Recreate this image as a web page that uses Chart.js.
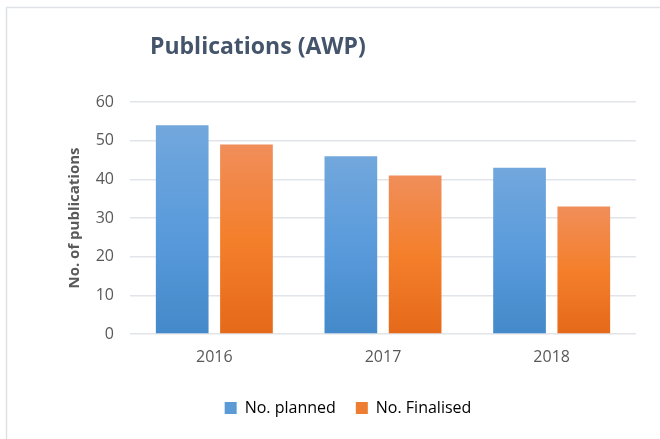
<!DOCTYPE html>
<html>
<head>
<meta charset="utf-8">
<script src="https://cdn.jsdelivr.net/npm/chart.js@4"></script>
<style>
html,body{margin:0;padding:0;background:#fff;}
#wrap{width:660px;height:439px;position:relative;}
</style>
</head>
<body>
<div id="wrap"><canvas id="c" width="660" height="439"></canvas></div>
<script>
const categories = ['2016', '2017', '2018'];
const plannedValues = [54, 46, 43];
const finalisedValues = [49, 41, 33];
const seriesNames = ['No. planned', 'No. Finalised'];
const chartTitle = 'Publications (AWP)';
const yAxisTitle = 'No. of publications';

const FONT = '"Open Sans", Lato, sans-serif';

function barGradient(ctx, stops) {
  const chart = ctx.chart;
  const area = chart.chartArea;
  if (!area || ctx.type !== 'data') return stops[1];
  const y = chart.scales.y;
  const top = y.getPixelForValue(ctx.raw);
  const bottom = y.getPixelForValue(0);
  if (!isFinite(top) || bottom - top < 1) return stops[1];
  const g = chart.ctx.createLinearGradient(0, top, 0, bottom);
  g.addColorStop(0, stops[0]);
  g.addColorStop(0.5, stops[1]);
  g.addColorStop(1, stops[2]);
  return g;
}
const blueStops = ['#72A7DC', '#5A9BDC', '#4489C9'];
const orangeStops = ['#F08E5A', '#F47F2B', '#E5691A'];

const framePlugin = {
  id: 'frame',
  beforeDraw(chart) {
    const c = chart.ctx;
    c.save();
    c.fillStyle = '#fff';
    c.fillRect(0, 0, chart.width, chart.height);
    c.strokeStyle = '#DEE2E7';
    c.lineWidth = 1.5;
    c.beginPath();
    c.moveTo(6.5, chart.height);
    c.lineTo(6.5, 7.5);
    c.lineTo(chart.width, 7.5);
    c.stroke();
    c.restore();
  }
};
const titlePlugin = {
  id: 'customTitle',
  afterDraw(chart) {
    const c = chart.ctx;
    c.save();
    c.font = 'bold 23px ' + FONT;
    c.fillStyle = '#44546A';
    c.textBaseline = 'middle';
    c.textAlign = 'left';
    c.fillText(chartTitle, 150, 47);
    c.restore();
  }
};

new Chart(document.getElementById('c'), {
  type: 'bar',
  data: {
    labels: categories,
    datasets: [
      { label: seriesNames[0], data: plannedValues,
        backgroundColor: ctx => barGradient(ctx, blueStops) },
      { label: seriesNames[1], data: finalisedValues,
        backgroundColor: ctx => barGradient(ctx, orangeStops) }
    ]
  },
  options: {
    responsive: false,
    animation: false,
    devicePixelRatio: 1,
    categoryPercentage: 0.762,
    barPercentage: 0.82,
    layout: { padding: { left: 60, right: 24, top: 102, bottom: 13 } },
    plugins: {
      title: { display: false },
      tooltip: { enabled: false },
      legend: {
        position: 'bottom',
        labels: {
          font: { family: FONT, size: 16 },
          color: '#595959',
          boxWidth: 12,
          boxHeight: 12,
          padding: 20,
          generateLabels(chart) {
            return chart.data.datasets.map((d, i) => ({
              text: d.label,
              fillStyle: i === 0 ? '#5B9BD5' : '#ED7D31',
              strokeStyle: i === 0 ? '#5B9BD5' : '#ED7D31',
              lineWidth: 0,
              datasetIndex: i
            }));
          }
        }
      }
    },
    scales: {
      x: {
        grid: { display: false },
        border: { display: false },
        ticks: { font: { family: FONT, size: 16 }, color: '#595959', padding: 6 },
        afterFit(scale) { scale.height = 46; }
      },
      y: {
        min: 0, max: 60,
        ticks: { stepSize: 10, font: { family: FONT, size: 16 }, color: '#595959', padding: 16 },
        grid: { color: '#E1E4E8', lineWidth: 1.5, drawTicks: false },
        border: { display: false },
        title: { display: true, text: yAxisTitle, font: { family: FONT, size: 15, weight: 'bold' }, color: '#595959', padding: { top: 6, bottom: 10 } },
        afterFit(scale) { scale.width = 70; }
      }
    }
  },
  plugins: [framePlugin, titlePlugin]
});
</script>
</body>
</html>
